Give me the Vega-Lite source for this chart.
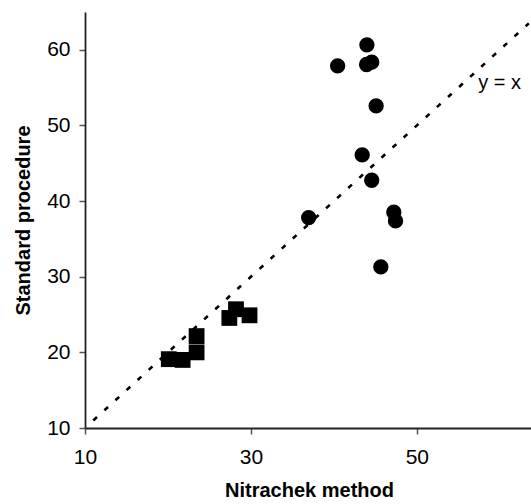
{
  "$schema": "https://vega.github.io/schema/vega-lite/v6.json",
  "autosize": "none",
  "width": 448,
  "height": 416,
  "padding": {"left": 85, "top": 12, "right": 0, "bottom": 76},
  "background": "white",
  "config": {
    "view": {"stroke": null},
    "font": "Liberation Sans",
    "axis": {
      "grid": false,
      "labelFont": "Liberation Sans",
      "labelFontSize": 21,
      "labelColor": "#000",
      "titleFont": "Liberation Sans",
      "titleFontSize": 20,
      "titleFontWeight": "bold",
      "titleColor": "#000",
      "domainColor": "#222",
      "domainWidth": 1.8,
      "tickColor": "#555",
      "tickWidth": 1.5,
      "tickSize": 6
    }
  },
  "datasets": {
    "pts": [
      {"nitrachek": 40.45, "standard": 57.88, "group": "A"},
      {"nitrachek": 43.98, "standard": 60.66, "group": "A"},
      {"nitrachek": 43.94, "standard": 58.06, "group": "A"},
      {"nitrachek": 44.56, "standard": 58.37, "group": "A"},
      {"nitrachek": 45.09, "standard": 52.59, "group": "A"},
      {"nitrachek": 43.41, "standard": 46.11, "group": "A"},
      {"nitrachek": 44.56, "standard": 42.76, "group": "A"},
      {"nitrachek": 36.96, "standard": 37.82, "group": "A"},
      {"nitrachek": 47.22, "standard": 38.52, "group": "A"},
      {"nitrachek": 47.43, "standard": 37.38, "group": "A"},
      {"nitrachek": 45.66, "standard": 31.3, "group": "A"},
      {"nitrachek": 20.1, "standard": 19.1, "group": "B"},
      {"nitrachek": 21.77, "standard": 19.0, "group": "B"},
      {"nitrachek": 23.45, "standard": 22.15, "group": "B"},
      {"nitrachek": 23.45, "standard": 20.0, "group": "B"},
      {"nitrachek": 27.4, "standard": 24.55, "group": "B"},
      {"nitrachek": 28.2, "standard": 25.7, "group": "B"},
      {"nitrachek": 29.83, "standard": 24.9, "group": "B"}
    ],
    "diag": [
      {"nitrachek": 11, "standard": 11},
      {"nitrachek": 63.5, "standard": 63.5}
    ],
    "note": [
      {"nitrachek": 57.4, "standard": 54.8, "label": "y = x"}
    ]
  },
  "layer": [
    {
      "mark": {"type": "rule", "color": "#888", "strokeWidth": 2},
      "encoding": {"y": {"datum": 65, "type": "quantitative", "scale": {"domain": [10, 65]}}}
    },
    {
      "data": {"name": "diag"},
      "mark": {"type": "line", "color": "#000", "strokeWidth": 2.6, "strokeDash": [5, 10]},
      "encoding": {
        "x": {"field": "nitrachek", "type": "quantitative"},
        "y": {"field": "standard", "type": "quantitative"}
      }
    },
    {
      "data": {"name": "pts"},
      "mark": {"type": "point", "filled": true, "opacity": 1, "color": "#000"},
      "encoding": {
        "x": {
          "field": "nitrachek", "type": "quantitative", "title": "Nitrachek method",
          "scale": {"domain": [10, 64], "nice": false, "zero": false},
          "axis": {"values": [10, 30, 50], "labelPadding": 12, "titlePadding": 13, "labelFlush": false}
        },
        "y": {
          "field": "standard", "type": "quantitative", "title": "Standard procedure",
          "scale": {"domain": [10, 65], "nice": false, "zero": false},
          "axis": {"values": [10, 20, 30, 40, 50, 60], "labelPadding": 9, "titlePadding": 13, "labelFlush": false}
        },
        "shape": {"field": "group", "type": "nominal", "scale": {"domain": ["A", "B"], "range": ["circle", "square"]}, "legend": null},
        "size": {"field": "group", "type": "nominal", "scale": {"domain": ["A", "B"], "range": [235, 250]}, "legend": null}
      }
    },
    {
      "data": {"name": "note"},
      "mark": {"type": "text", "align": "left", "baseline": "alphabetic", "fontSize": 20, "font": "Liberation Sans", "color": "#000"},
      "encoding": {
        "x": {"field": "nitrachek", "type": "quantitative"},
        "y": {"field": "standard", "type": "quantitative"},
        "text": {"field": "label"}
      }
    }
  ]
}
